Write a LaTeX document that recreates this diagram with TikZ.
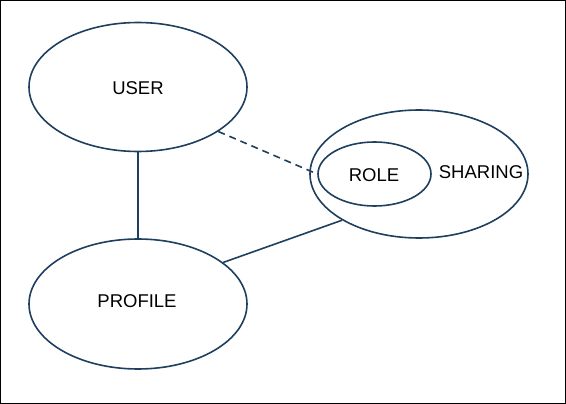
\documentclass[tikz,border=0pt]{standalone}
\usepackage{fontspec}
\setmainfont{Liberation Sans}
\usetikzlibrary{shapes.geometric}
\definecolor{lc}{HTML}{1F3F5F}
\tikzset{
  ent/.style={draw=lc, line width=1.6pt, ellipse, inner sep=0pt},
  conn/.style={draw=lc, line width=1.6pt},
  lbl/.style={font=\fontsize{18.5}{20}\selectfont, text=black}
}
\begin{document}
\begin{tikzpicture}[x=1pt,y=-1pt]
\useasboundingbox (0,0) rectangle (566,404);
\draw[black, line width=1pt] (0.5,0.5) rectangle (565.5,403.5);
\node[ent, minimum width=218pt, minimum height=129pt] (user) at (138,87) {};
\node[lbl] (usert) at (138,88) {USER};
\node[ent, minimum width=218pt, minimum height=130pt] (profile) at (138,304) {};
\node[lbl] (profilet) at (137,301) {PROFILE};
\node[ent, minimum width=218pt, minimum height=128pt] (sharing) at (419,174) {};
\node[lbl] (sharingt) at (481,172) {SHARING};
\node[ent, minimum width=113pt, minimum height=64pt] (role) at (374.5,174) {};
\node[lbl] (rolet) at (374,175) {ROLE};
\draw[conn] (user.south) -- (profile.north);
\draw[conn, dash pattern=on 7pt off 5pt] (user.-29) -- (role.west);
\draw[conn] (sharing.-149) -- (profile.26);
\end{tikzpicture}
\end{document}
